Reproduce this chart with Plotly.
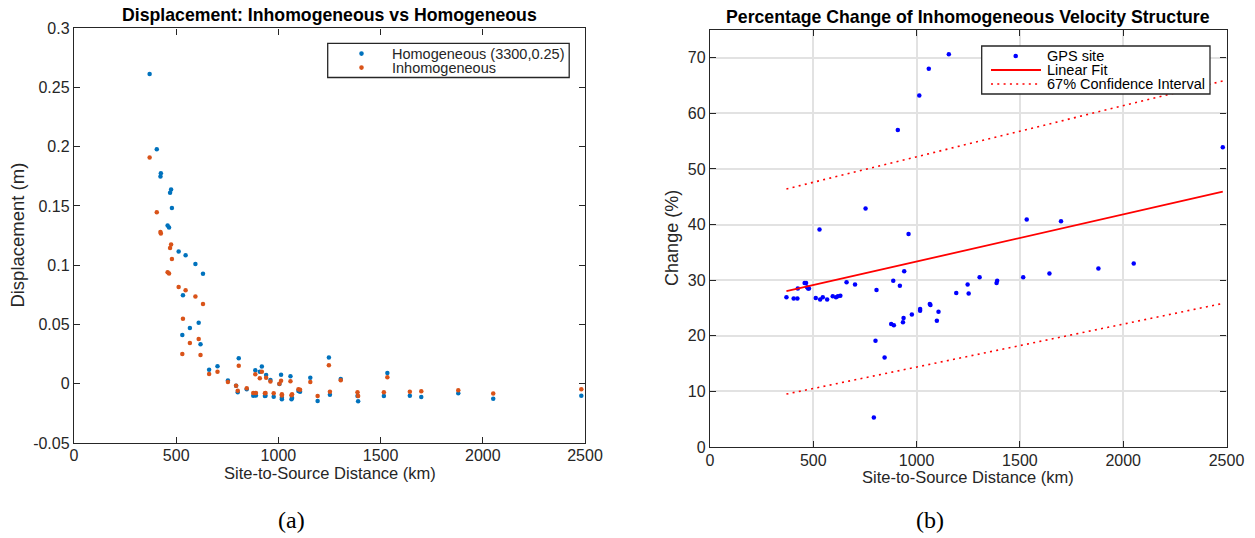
import plotly.graph_objects as go

# ---------------- data ----------------
distance_km = [370, 405, 423, 425, 458, 465, 470, 475, 479, 512, 530, 533, 546, 567, 594, 610, 619, 631,
               661, 702, 753, 793, 801, 806, 845, 877, 887, 890, 909, 919, 934, 937, 940, 961, 977,
               1005, 1013, 1017, 1017, 1059, 1064, 1067, 1098, 1106, 1156, 1192, 1247, 1252, 1305,
               1387, 1390, 1516, 1533, 1643, 1699, 1880, 2051, 2482]

disp_homogeneous = [0.2614, 0.1980, 0.1748, 0.1777, 0.1335, 0.1318, 0.1611, 0.1639, 0.1484, 0.1115,
                    0.0411, 0.0747, 0.1084, 0.0470, 0.1011, 0.0515, 0.0333, 0.0927, 0.0118, 0.0147,
                    0.0026, -0.0018, -0.0073, 0.0215, -0.0047, -0.0101, 0.0113, -0.0100, 0.0101, 0.0144,
                    -0.0104, -0.0102, 0.0073, 0.0031, -0.0110, -0.0003, 0.0076, -0.0119, -0.0131, 0.0062,
                    -0.0132, -0.0120, -0.0062, -0.0068, 0.0051, -0.0146, 0.0220, -0.0093, 0.0040,
                    -0.0104, -0.0149, -0.0104, 0.0090, -0.0101, -0.0113, -0.0081, -0.0127, -0.0101]

disp_inhomogeneous = [0.1909, 0.1448, 0.1281, 0.1267, 0.0941, 0.0929, 0.1146, 0.1174, 0.1053, 0.0817,
                      0.0251, 0.0549, 0.0789, 0.0344, 0.0735, 0.0377, 0.0242, 0.0673, 0.0082, 0.0101,
                      0.0015, -0.0017, -0.0059, 0.0152, -0.0039, -0.0079, 0.0079, -0.0078, 0.0045, 0.0101,
                      -0.0081, -0.0078, 0.0051, 0.0019, -0.0081, 0.0000, 0.0025, -0.0090, -0.0099, 0.0020,
                      -0.0098, -0.0090, -0.0048, -0.0051, 0.0015, -0.0104, 0.0155, -0.0068, 0.0028,
                      -0.0073, -0.0104, -0.0073, 0.0054, -0.0068, -0.0065, -0.0056, -0.0084, -0.0047]

change_pct = [26.9, 26.7, 26.7, 28.5, 29.5, 29.5, 28.7, 28.5, 28.5, 26.8, 39.1, 26.5, 26.9, 26.5, 27.1,
              26.9, 27.1, 27.2, 29.6, 29.2, 42.9, 5.3, 19.1, 28.2, 16.1, 22.1, 29.9, 21.9, 57.0, 29.0,
              22.4, 23.2, 31.6, 38.3, 23.8, None, 63.2, 24.8, 24.5, 68.0, 25.7, 25.5, 22.7, 24.3, 70.6,
              27.7, 29.2, 27.6, 30.5, 29.5, 29.9, 30.5, 40.9, 31.2, 40.6, 32.1, 33.0, 53.9]

fit_x = [370, 2482]
fit_y = [28.0, 45.9]
ci_upper = [46.4, 65.8]
ci_lower = [9.5, 25.8]

x_ticks = [0, 500, 1000, 1500, 2000, 2500]
left_y_ticks = [-0.05, 0, 0.05, 0.1, 0.15, 0.2, 0.25, 0.3]
left_y_labels = ["-0.05", "0", "0.05", "0.1", "0.15", "0.2", "0.25", "0.3"]
right_y_ticks = [0, 10, 20, 30, 40, 50, 60, 70]

left_legend_labels = ["Homogeneous (3300,0.25)", "Inhomogeneous"]
right_legend_labels = ["GPS site", "Linear Fit", "67% Confidence Interval"]

# ---------------- style ----------------
W, H = 1255, 538
FONT = "Liberation Sans, Arial, Helvetica, sans-serif"
SERIF = "Liberation Serif, Times New Roman, serif"
AXC = "#262626"
C_HOM, C_INH = "#0072BD", "#D95319"
C_GPS, C_FIT = "#0000FF", "#FF0000"
DOTS = "2px,4.3px"


def px_x(p):
    return p / W


def px_y(p):
    return 1 - p / H


fig = go.Figure()

fig.add_trace(go.Scatter(x=distance_km, y=disp_homogeneous, mode="markers",
                         name=left_legend_labels[0], marker=dict(color=C_HOM, size=4.5),
                         xaxis="x", yaxis="y", cliponaxis=False))
fig.add_trace(go.Scatter(x=distance_km, y=disp_inhomogeneous, mode="markers",
                         name=left_legend_labels[1], marker=dict(color=C_INH, size=4.5),
                         xaxis="x", yaxis="y", cliponaxis=False))

fig.add_trace(go.Scatter(x=distance_km, y=change_pct, mode="markers", name=right_legend_labels[0],
                         marker=dict(color=C_GPS, size=4.5),
                         xaxis="x2", yaxis="y2", cliponaxis=False))
fig.add_trace(go.Scatter(x=fit_x, y=fit_y, mode="lines", name=right_legend_labels[1],
                         line=dict(color=C_FIT, width=1.8), xaxis="x2", yaxis="y2"))
fig.add_trace(go.Scatter(x=fit_x, y=ci_upper, mode="lines", name=right_legend_labels[2],
                         line=dict(color=C_FIT, width=1.6, dash=DOTS), xaxis="x2", yaxis="y2"))
fig.add_trace(go.Scatter(x=fit_x, y=ci_lower, mode="lines", name=right_legend_labels[2],
                         line=dict(color=C_FIT, width=1.6, dash=DOTS), xaxis="x2", yaxis="y2"))

axis_common = dict(showline=True, linecolor=AXC, linewidth=1.4, mirror="ticks",
                   ticks="inside", ticklen=6, tickwidth=1.4, tickcolor=AXC,
                   zeroline=False, automargin=False,
                   tickfont=dict(family=FONT, size=16, color=AXC))

fig.update_layout(
    width=W, height=H,
    margin=dict(l=0, r=0, t=0, b=0),
    paper_bgcolor="white", plot_bgcolor="white",
    font=dict(family=FONT, color=AXC),
    showlegend=False,
    xaxis=dict(domain=[px_x(74), px_x(585)], range=[0, 2500], tickvals=x_ticks,
               showgrid=False, anchor="y", ticklabelstandoff=-2, **axis_common),
    yaxis=dict(domain=[px_y(442.9), px_y(28.3)], range=[-0.05, 0.3], tickvals=left_y_ticks,
               ticktext=left_y_labels, showgrid=False, anchor="x", **axis_common),
    xaxis2=dict(domain=[px_x(710), px_x(1226.5)], range=[0, 2500], tickvals=x_ticks,
                showgrid=True, gridcolor="#E2E2E2", gridwidth=1.7, anchor="y2",
                ticklabelstandoff=-1, **axis_common),
    yaxis2=dict(domain=[px_y(446.9), px_y(29.9)], range=[0, 75], tickvals=right_y_ticks,
                showgrid=True, gridcolor="#E2E2E2", gridwidth=1.7, anchor="x2", **axis_common),
)

# ---- legends drawn as layout elements (boxes, samples, labels) ----
shapes = []


def rect(x0, y0, x1, y1):
    return dict(type="rect", xref="paper", yref="paper", x0=px_x(x0), x1=px_x(x1),
                y0=px_y(y1), y1=px_y(y0), line=dict(color=AXC, width=1.3), fillcolor="white",
                layer="above")


def dot(cx, cy, color, r=2.3):
    return dict(type="circle", xref="paper", yref="paper", x0=px_x(cx - r), x1=px_x(cx + r),
                y0=px_y(cy + r), y1=px_y(cy - r), line=dict(width=0), fillcolor=color, layer="above")


def seg(x0, x1, y, dash=None, width=1.8):
    ln = dict(color=C_FIT, width=width)
    if dash:
        ln["dash"] = dash
    return dict(type="line", xref="paper", yref="paper", x0=px_x(x0), x1=px_x(x1),
                y0=px_y(y), y1=px_y(y), line=ln, layer="above")


shapes.append(rect(327.7, 43.3, 569.2, 77.5))
shapes.append(dot(361.5, 53.6, C_HOM))
shapes.append(dot(361.5, 67.6, C_INH))

shapes.append(rect(981.7, 46, 1210, 94))
shapes.append(dot(1015.7, 56, C_GPS))
shapes.append(seg(991, 1041, 70))
shapes.append(seg(991, 1041, 84, dash=DOTS, width=1.6))

annotations = [
    dict(text="<b>Displacement: Inhomogeneous vs Homogeneous</b>", x=px_x(329.5), y=px_y(15),
         font=dict(size=17.7, color="black")),
    dict(text="<b>Percentage Change of Inhomogeneous Velocity Structure</b>", x=px_x(968), y=px_y(17),
         font=dict(size=17.7, color="black")),
    dict(text="Site-to-Source Distance (km)", x=px_x(329.5), y=px_y(473), font=dict(size=16.5, color=AXC)),
    dict(text="Site-to-Source Distance (km)", x=px_x(968), y=px_y(477), font=dict(size=16.5, color=AXC)),
    dict(text="Displacement (m)", x=px_x(18), y=px_y(235.6), textangle=-90, font=dict(size=18.5, color=AXC)),
    dict(text="Change (%)", x=px_x(672.5), y=px_y(238.4), textangle=-90, font=dict(size=18, color=AXC)),
    dict(text="(a)", x=px_x(291), y=px_y(519.5), font=dict(size=24, color="black", family=SERIF)),
    dict(text="(b)", x=px_x(930), y=px_y(519.5), font=dict(size=24, color="black", family=SERIF)),
    dict(text=left_legend_labels[0], x=px_x(390), y=px_y(53.6), xanchor="left", font=dict(size=14.5, color=AXC)),
    dict(text=left_legend_labels[1], x=px_x(390), y=px_y(67.6), xanchor="left", font=dict(size=14.5, color=AXC)),
    dict(text=right_legend_labels[0], x=px_x(1044.5), y=px_y(56), xanchor="left", font=dict(size=14.5, color="black")),
    dict(text=right_legend_labels[1], x=px_x(1044.5), y=px_y(70), xanchor="left", font=dict(size=14.5, color="black")),
    dict(text=right_legend_labels[2], x=px_x(1044.5), y=px_y(84), xanchor="left", font=dict(size=14.5, color="black")),
]
for a in annotations:
    a.setdefault("xanchor", "center")
    a.update(xref="paper", yref="paper", showarrow=False, yanchor="middle")
    a["font"].setdefault("family", FONT)
fig.update_layout(annotations=annotations, shapes=shapes)

fig.write_html("out.html", config={"displayModeBar": False},
               post_script="document.body.style.margin='0';document.body.style.overflow='hidden';")
